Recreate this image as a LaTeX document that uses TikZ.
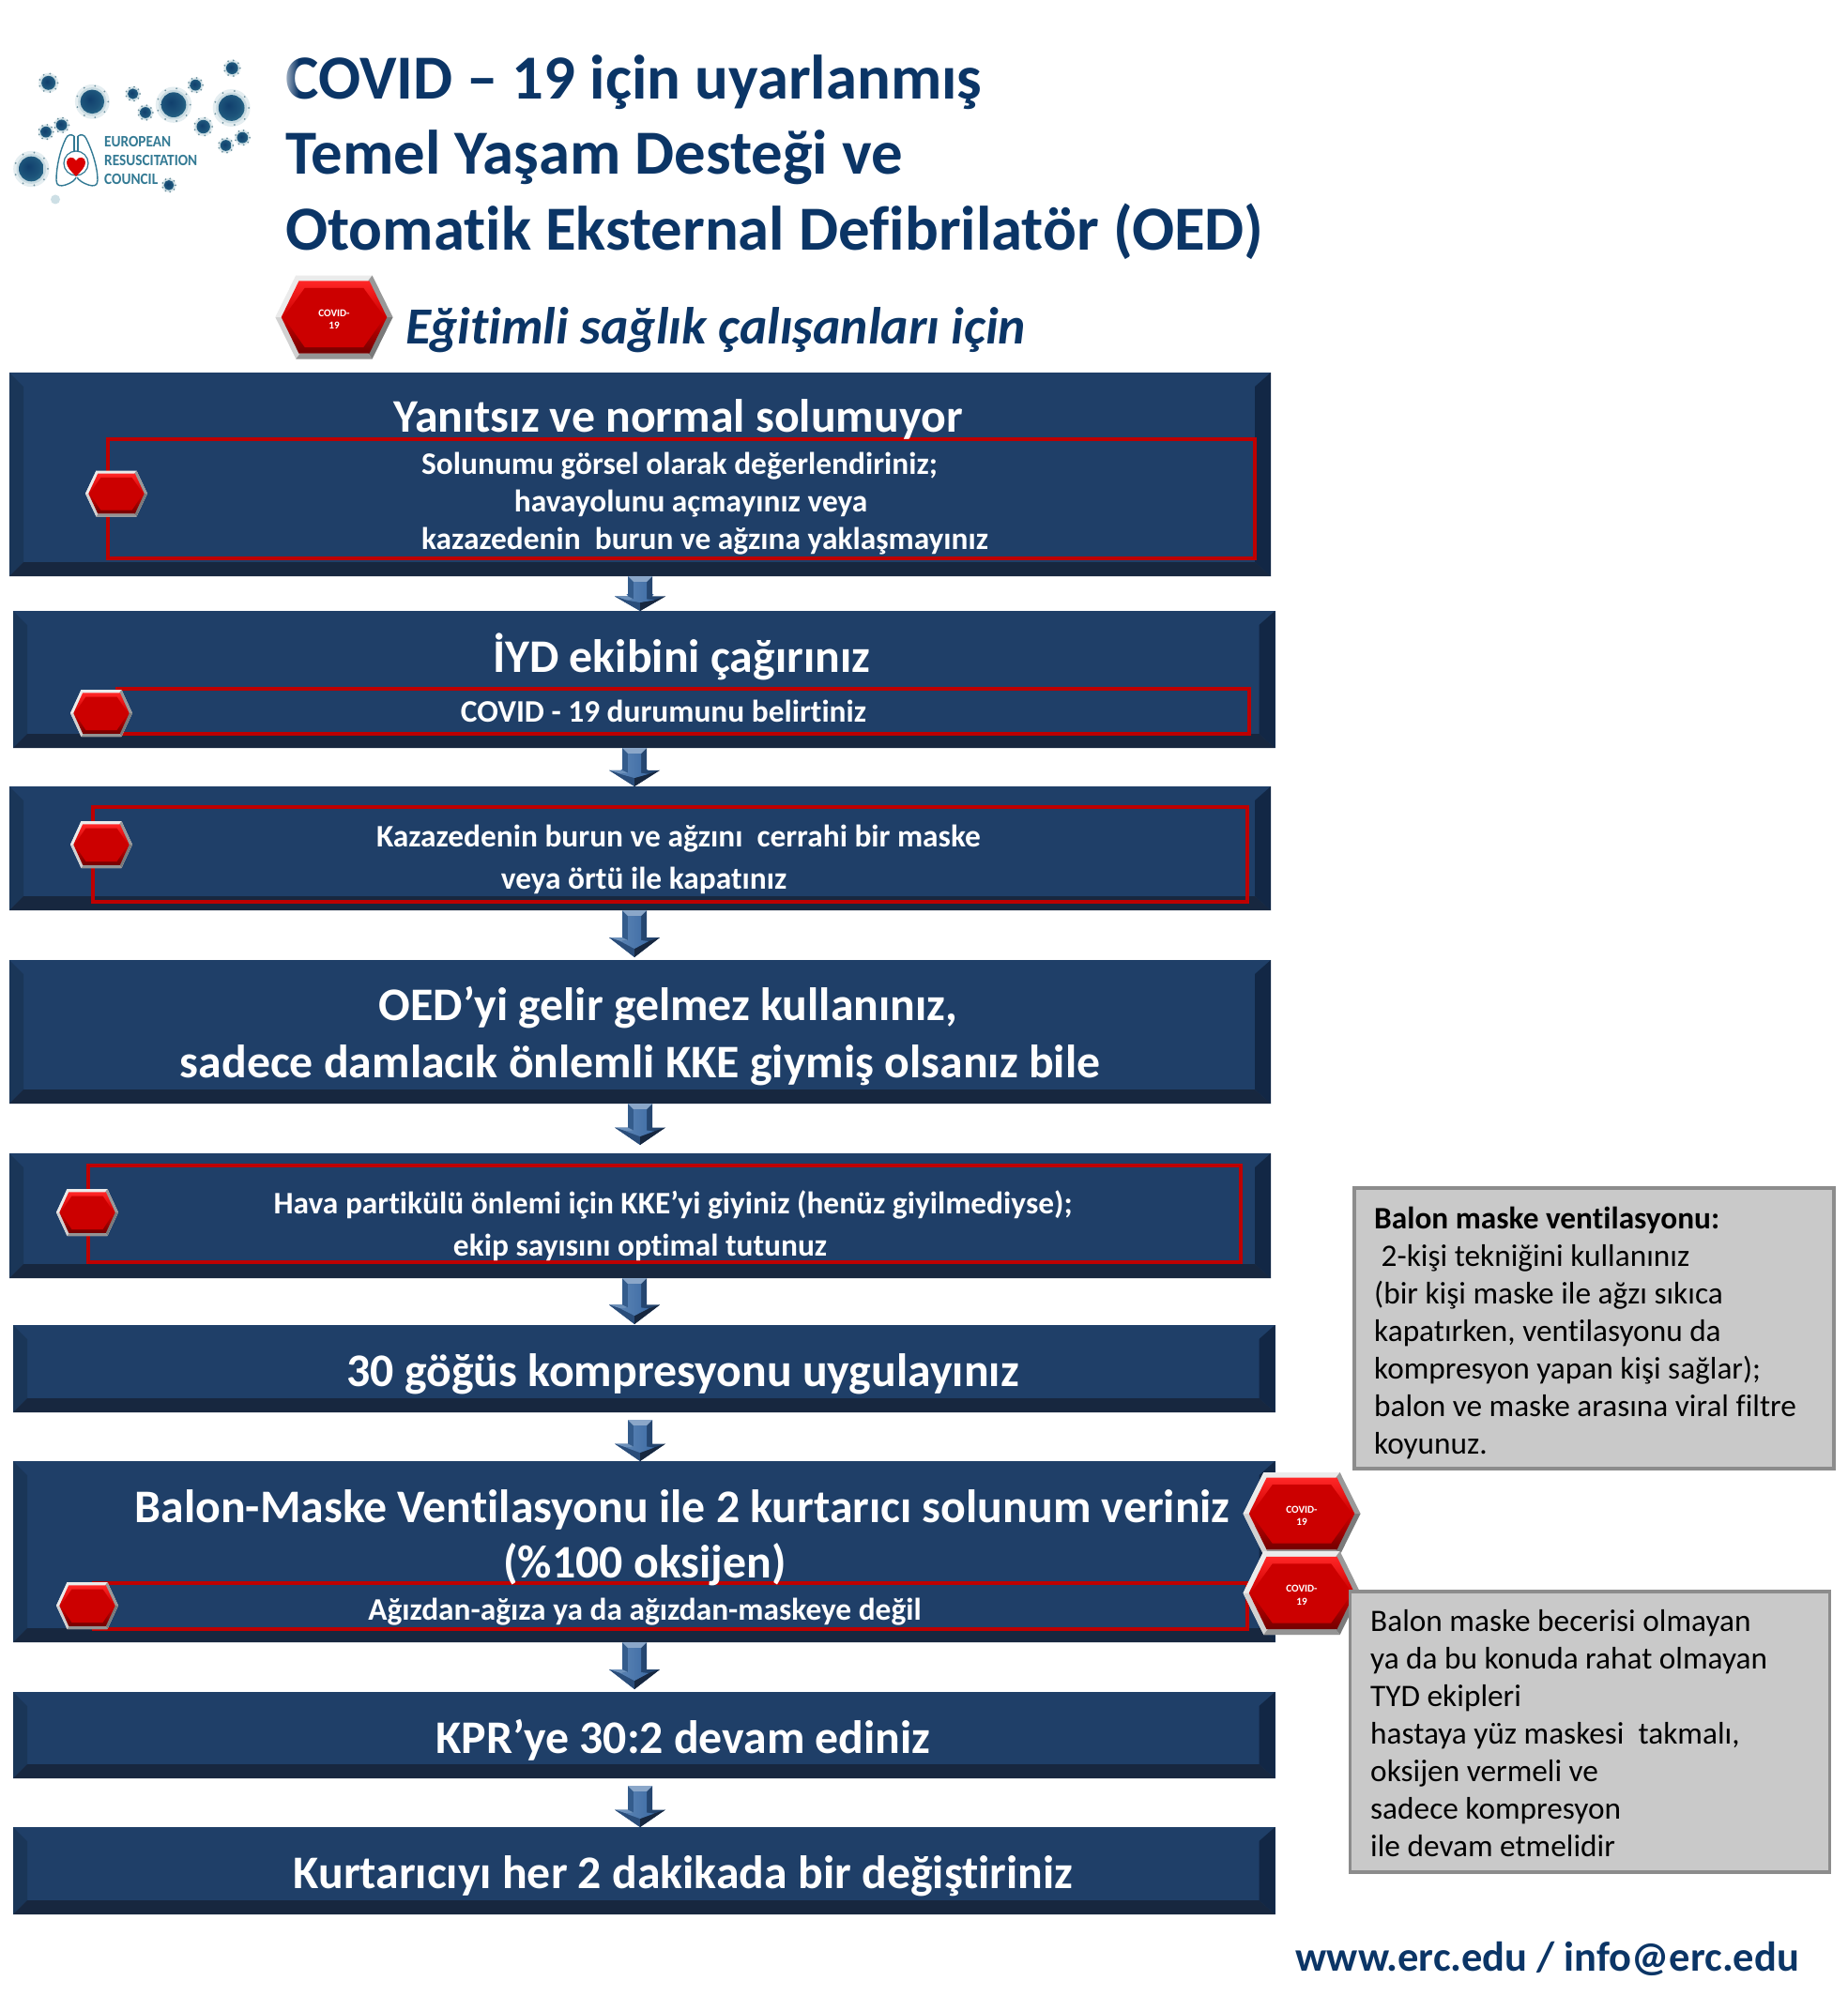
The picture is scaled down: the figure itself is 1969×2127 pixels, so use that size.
\documentclass[tikz,border=0pt]{standalone}
\usepackage{fontspec}
\setmainfont{Carlito}[Ligatures=CommonOff]
\usetikzlibrary{calc,arrows.meta,fadings}
\definecolor{navy}{HTML}{0B3566}
\definecolor{face}{HTML}{1F3F68}
\definecolor{bevL}{HTML}{1A3658}
\definecolor{bevR}{HTML}{122745}
\definecolor{bevB}{HTML}{17273F}
\definecolor{frameRed}{HTML}{BE0000}
\definecolor{greyFill}{HTML}{C9C9C9}
\definecolor{greyEdge}{HTML}{8C8C8C}
\definecolor{arrowBase}{HTML}{3D6CA5}
\definecolor{logoTeal}{HTML}{337A94}
\pgfdeclareradialshading{virusball}{\pgfpoint{-6bp}{5bp}}{color(0bp)=(navy!85!logoTeal); color(20bp)=(navy!55!logoTeal); color(36bp)=(logoTeal); color(50bp)=(logoTeal!65!white)}
\tikzset{
  flowbox/.style={rectangle,fill=face,inner sep=0pt,outer sep=0pt},
  redframe/.style={rectangle,draw=frameRed,line width=4.5pt,inner sep=0pt,outer sep=0pt},
  greybox/.style={rectangle,fill=greyFill,draw=greyEdge,line width=3.5pt,inner sep=0pt,outer sep=0pt},
  titletx/.style={anchor=base west,inner sep=0pt,text=navy,font={\fontsize{66.8pt}{66.8pt}\selectfont\bfseries}},
  subtitletx/.style={anchor=base west,inner sep=0pt,text=navy,font={\fontsize{55.5pt}{55.5pt}\selectfont\bfseries\itshape}},
  bigtx/.style={anchor=base,inner sep=0pt,text=white,font={\fontsize{49.8pt}{49.8pt}\selectfont\bfseries}},
  smalltx/.style={anchor=base,inner sep=0pt,text=white,font={\fontsize{33.4pt}{33.4pt}\selectfont\bfseries}},
  greytx/.style={anchor=north west,inner sep=0pt,text=black,align=left,font={\fontsize{33.3pt}{40pt}\selectfont}},
  footertx/.style={anchor=base west,inner sep=0pt,text=navy,font={\fontsize{44.5pt}{44.5pt}\selectfont\bfseries}},
  hexlabel/.style={inner sep=0pt,text=white,align=center,yshift=-2.5pt,font={\fontsize{11.2pt}{13.5pt}\selectfont\bfseries}},
  logotx/.style={anchor=base west,inner sep=0pt,text=logoTeal,font={\fontsize{17pt}{17pt}\selectfont\bfseries}},
  flowarrow/.style={draw=arrowBase,line width=18pt,-{Triangle[length=18pt,width=28pt]}},
}
% name x1 y1 x2 y2
\newcommand\flowbox[5]{%
  \node[flowbox,minimum width={(#4-#2)*1pt},minimum height={(#5-#3)*1pt}] (#1) at ({(#2+#4)/2},{(#3+#5)/2}) {};
  \fill[bevL] (#1.north west) -- ($(#1.north west)+(15,15)$) -- ($(#1.south west)+(15,-15)$) -- (#1.south west) -- cycle;
  \fill[bevR] (#1.north east) -- ($(#1.north east)+(-17,15)$) -- ($(#1.south east)+(-17,-15)$) -- (#1.south east) -- cycle;
  \fill[bevB] (#1.south west) -- ($(#1.south west)+(15,-15)$) -- ($(#1.south east)+(-17,-15)$) -- (#1.south east) -- cycle;
}
\newcommand\redbox[5]{%
  \node[redframe,minimum width={(#4-#2)*1pt},minimum height={(#5-#3)*1pt}] (#1) at ({(#2+#4)/2},{(#3+#5)/2}) {};
}
% name cx cy halfwidth halfheight label
\newcommand\hexbadge[6]{%
  \begin{scope}[shift={(#2,#3)},x=#4pt,y=-#5pt]
    \fill[white!92!black] (-1,0) -- (-.65,-1) -- (.65,-1) -- (1,0) -- (.65,1) -- (-.65,1) -- cycle;
    \fill[black!18] (-1,0) -- (-.88,0) -- (-.58,.87) -- (-.65,1) -- cycle;
    \fill[black!8] (-1,0) -- (-.88,0) -- (-.58,-.87) -- (-.65,-1) -- cycle;
    \fill[black!52] (1,0) -- (.88,0) -- (.58,.87) -- (.65,1) -- cycle;
    \fill[black!40] (1,0) -- (.88,0) -- (.58,-.87) -- (.65,-1) -- cycle;
    \fill[black!42] (-.65,1) -- (.65,1) -- (.58,.87) -- (-.58,.87) -- cycle;
    \shade[top color=red!85!white,bottom color=red!45!black,middle color=red!80!black]
      (-.9,0) -- (-.6,-.87) -- (.6,-.87) -- (.9,0) -- (.6,.87) -- (-.6,.87) -- cycle;
    \fill[red!80!black] (-.86,0) -- (-.5,-.7) -- (.5,-.7) -- (.86,0) -- (.5,.72) -- (-.5,.72) -- cycle;
    \node[hexlabel] (#1) at (0,0) {#6};
  \end{scope}
}
% name from to cx offtop offbottom
\newcommand\blockarrow[6]{%
  \coordinate (#1x) at (#4,0);
  \coordinate (#1t) at ($(#2.south -| #1x)+(0,#5)$);
  \coordinate (#1e) at ($(#3.north -| #1x)+(0,-#6)$);
  \coordinate (#1h) at ($(#1t)!.58!(#1e)$);
  \draw[flowarrow] (#1t) -- (#1e);
  \fill[arrowBase!85!black] ($(#1t)+(-13,0)$) -- (#1t) -- (#1e) -- ($(#1h)+(-27,0)$) -- ($(#1h)+(-13,0)$) -- cycle;
  \fill[arrowBase!45!bevR] ($(#1t)+(13,0)$) -- (#1t) -- (#1e) -- ($(#1h)+(27,0)$) -- ($(#1h)+(13,0)$) -- cycle;
  \fill[arrowBase!60!white] ($(#1t)+(-13,0)$) -- ($(#1t)+(13,0)$) -- ($(#1t)+(7,6)$) -- ($(#1t)+(-7,6)$) -- cycle;
  \fill[arrowBase!75!white] ($(#1h)+(-27,0)$) -- ($(#1h)+(-13,0)$) -- ($(#1h)+(-7,3)$) -- ($(#1h)+(-15,4)$) -- cycle;
  \fill[arrowBase!55!bevR] ($(#1h)+(-27,0)$) -- ($(#1h)+(-15,4)$) -- ($(#1e)+(0,-9)$) -- (#1e) -- cycle;
  \fill[bevB] ($(#1h)+(27,0)$) -- ($(#1h)+(15,4)$) -- ($(#1e)+(0,-9)$) -- (#1e) -- cycle;
  \shade[left color=arrowBase!85!white,right color=arrowBase]
    ($(#1t)+(-7,6)$) -- ($(#1t)+(7,6)$) -- ($(#1h)+(7,3)$) -- ($(#1h)+(15,4)$) -- ($(#1e)+(0,-9)$) -- ($(#1h)+(-15,4)$) -- ($(#1h)+(-7,3)$) -- cycle;
}
% x y r (zoom units: 3 per pixel)
\newcommand\virus[3]{%
  \fill[logoTeal!70!white,opacity=.18] ({#1/3},{#2/3}) circle ({#3/3*1.15});
  \fill[logoTeal!70!white,opacity=.25] ({#1/3},{#2/3}) circle ({#3/3*.95});
  \foreach \a in {0,40,...,320}{\fill[logoTeal!60!gray,opacity=.8] ({#1/3+#3/3*1.06*cos(\a)},{#2/3+#3/3*1.06*sin(\a)}) circle (1pt);}
  \shade[shading=virusball] ({#1/3},{#2/3}) circle ({#3/3*.8});
}
\begin{document}
\begin{tikzpicture}[x=1pt,y=-1pt]
\fill[white] (0,0) rectangle (1969,2127);
\useasboundingbox (0,0) rectangle (1969,2127);
% logo
\virus{155}{265}{28}\virus{295}{325}{48}\virus{425}{300}{21}\virus{465}{360}{22}
\virus{555}{335}{50}\virus{625}{272}{22}\virus{742}{218}{24}\virus{740}{345}{52}
\virus{650}{405}{27}\virus{775}{440}{22}\virus{722}{465}{22}\virus{197}{400}{22}
\virus{147}{422}{22}\virus{100}{540}{50}\virus{540}{592}{20}
\fill[logoTeal!40,opacity=.6] (59,212.5) circle (5);
\draw[logoTeal,line width=1.4pt] (79,145) .. controls (76,143) and (72,143) .. (70,148) .. controls (64,160) and (60,178) .. (60,192) .. controls (60,198) and (64,199) .. (70,197) .. controls (76,195) and (80,192) .. (81,189);
\draw[logoTeal,line width=1.4pt] (83,145) .. controls (86,143) and (90,143) .. (92,148) .. controls (98,160) and (104,178) .. (104,192) .. controls (104,198) and (100,199) .. (94,197) .. controls (88,195) and (84,192) .. (82,189);
\draw[logoTeal,line width=1.4pt] (79,145) -- (79,163) (83,145) -- (83,163);
\draw[logoTeal,line width=1.2pt,fill=white] (81,174) circle (13);
\fill[red!85!black] (81,188) .. controls (74,181) and (71,177) .. (71,173) .. controls (71,167) and (78,166) .. (81,171) .. controls (84,166) and (91,167) .. (91,173) .. controls (91,177) and (88,181) .. (81,188) -- cycle;
\node[logotx] (lg1) at (111,156.5) {\scalebox{.9}[1]{EUROPEAN}};
\node[logotx] (lg2) at (111,176.5) {\scalebox{.9}[1]{RESUSCITATION}};
\node[logotx] (lg3) at (111,196.5) {\scalebox{.9}[1]{COUNCIL}};
% title
\node[titletx] (t1) at (304,106) {COVID – 19 için uyarlanmış};
\node[titletx] (t2) at (304,186) {Temel Yaşam Desteği ve};
\node[titletx] (t3) at (304,266) {Otomatik Eksternal Defibrilatör (OED)};
\fill[white,opacity=.8,path fading=east] (300,55) rectangle (318,110);
\hexbadge{hx0}{356}{338}{62.5}{44.5}{COVID-\\19}
\node[subtitletx] (st) at (432,366) {Eğitimli sağlık çalışanları için};
% boxes
\flowbox{b1}{10}{397}{1354}{614}
\flowbox{b2}{14}{651}{1358.5}{797}
\flowbox{b3}{10}{838}{1354}{970}
\flowbox{b4}{10}{1023}{1354}{1176}
\flowbox{b5}{10}{1229}{1354}{1362}
\flowbox{b6}{14}{1412}{1358.5}{1505}
\flowbox{b7}{14}{1557}{1358.5}{1750}
\flowbox{b8}{14}{1803}{1358.5}{1895}
\flowbox{b9}{14}{1947}{1358.5}{2040}
% arrows
\blockarrow{a1}{b1}{b2}{682}{0}{0}
\blockarrow{a2}{b2}{b3}{676}{0}{0}
\blockarrow{a3}{b3}{b4}{676}{0}{3}
\blockarrow{a4}{b4}{b5}{682}{0}{9}
\blockarrow{a5}{b5}{b6}{676}{0}{1}
\blockarrow{a6}{b6}{b7}{682}{8}{0}
\blockarrow{a7}{b7}{b8}{676}{0}{3}
\blockarrow{a8}{b8}{b9}{682}{8}{0}
% red frames
\redbox{r1}{115}{468}{1337}{595}
\redbox{r2}{125}{734}{1331}{782}
\redbox{r3}{99}{860}{1329}{961}
\redbox{r5}{94}{1242}{1322}{1345}
\redbox{r7}{100}{1687}{1329}{1736}
% box texts
\node[bigtx] (x1) at (722.5,460) {Yanıtsız ve normal solumuyor};
\node[smalltx] (x1a) at (724,505) {Solunumu görsel olarak değerlendiriniz;};
\node[smalltx] (x1b) at (736,545) {havayolunu açmayınız veya};
\node[smalltx] (x1c) at (751,585) {kazazedenin\ \ burun ve ağzına yaklaşmayınız};
\node[bigtx] (x2) at (726,716) {İYD ekibini çağırınız};
\node[smalltx] (x2a) at (707,769) {COVID - 19 durumunu belirtiniz};
\node[smalltx] (x3a) at (723,902) {Kazazedenin burun ve ağzını\ \ cerrahi bir maske};
\node[smalltx] (x3b) at (686,947) {veya örtü ile kapatınız};
\node[bigtx] (x4a) at (712,1087) {OED’yi gelir gelmez kullanınız,};
\node[bigtx] (x4b) at (682,1148) {sadece damlacık önlemli KKE giymiş olsanız bile};
\node[smalltx] (x5a) at (717,1293) {Hava partikülü önlemi için KKE’yi giyiniz (henüz giyilmediyse);};
\node[smalltx] (x5b) at (682,1338) {ekip sayısını optimal tutunuz};
\node[bigtx] (x6) at (727.5,1477) {30 göğüs kompresyonu uygulayınız};
\node[bigtx] (x7a) at (727,1622) {Balon-Maske Ventilasyonu ile 2 kurtarıcı solunum veriniz};
\node[bigtx] (x7b) at (687,1681) {(\%100 oksijen)};
\node[smalltx] (x7c) at (687,1726) {Ağızdan-ağıza ya da ağızdan-maskeye değil};
\node[bigtx] (x8) at (728,1868) {KPR’ye 30:2 devam ediniz};
\node[bigtx] (x9) at (728,2012) {Kurtarıcıyı her 2 dakikada bir değiştiriniz};
% badges
\hexbadge{h1}{124}{526}{33}{24.5}{}
\hexbadge{h2}{108}{760}{33}{25}{}
\hexbadge{h3}{108}{900}{33}{25}{}
\hexbadge{h5}{93}{1292}{33}{25}{}
\hexbadge{h7}{93}{1711}{33}{25}{}
\hexbadge{hx1}{1387}{1613}{62.5}{44}{COVID-\\19}
\hexbadge{hx2}{1387}{1697.5}{62.5}{44.5}{COVID-\\19}
% grey boxes
\node[greybox,minimum width=511pt,minimum height=299pt] (g1) at (1698.5,1415.5) {};
\node[greytx] (g1t) at (1464,1286) {\textbf{Balon maske ventilasyonu:}\\\ 2-kişi tekniğini kullanınız\\(bir kişi maske ile ağzı sıkıca\\kapatırken, ventilasyonu da\\kompresyon yapan kişi sağlar);\\balon ve maske arasına viral filtre\\koyunuz.};
\node[greybox,minimum width=511pt,minimum height=299pt] (g2) at (1694,1845.5) {};
\node[greytx] (g2t) at (1460,1715) {Balon maske becerisi olmayan\\ya da bu konuda rahat olmayan\\TYD ekipleri\\hastaya yüz maskesi\ \ takmalı,\\oksijen vermeli ve\\sadece kompresyon\\ile devam etmelidir};
\node[footertx] (ft) at (1380,2100) {www.erc.edu / info@erc.edu};
\end{tikzpicture}
\end{document}
